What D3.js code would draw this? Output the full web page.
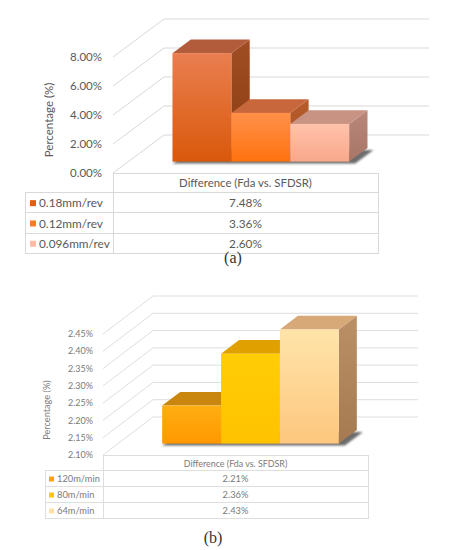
<!DOCTYPE html>
<html>
<head>
<meta charset="utf-8">
<script src="https://cdn.jsdelivr.net/npm/d3@7"></script>
<style>
  body { margin: 0; background: #fff; }
  svg { display: block; }
</style>
</head>
<body>
<svg id="chart" width="457" height="550"></svg>
<script>
const categoryName = "Difference (Fda vs. SFDSR)";
const axisTitle = "Percentage (%)";

// (a) feed rate
const feedRates = ["0.18mm/rev", "0.12mm/rev", "0.096mm/rev"];
const feedDiff = [7.48, 3.36, 2.60];
const feedTicks = [0, 2, 4, 6, 8];

// (b) cutting speed
const cutSpeeds = ["120m/min", "80m/min", "64m/min"];
const speedDiff = [2.21, 2.36, 2.43];
const speedTicks = [2.10, 2.15, 2.20, 2.25, 2.30, 2.35, 2.40, 2.45];

const pct = (v) => `${d3.format(".2f")(v)}%`;

const svg = d3.select("#chart");
const defs = svg.append("defs");
defs.append("filter").attr("id", "shadowBlur")
  .attr("x", "-20%").attr("y", "-50%").attr("width", "140%").attr("height", "200%")
  .append("feGaussianBlur").attr("stdDeviation", 1.3);

const addGradient = (id, stops) => {
  const g = defs.append("linearGradient").attr("id", id)
    .attr("x1", 0).attr("y1", 0).attr("x2", 0).attr("y2", 1);
  g.append("stop").attr("offset", "0%").attr("stop-color", stops[0]);
  g.append("stop").attr("offset", "100%").attr("stop-color", stops[1]);
  return `url(#${id})`;
};

const drawPanel = (opt) => {
  const { id, series, values, ticks, x0, yFront, yTop, W, DX, DY, z0, z1 } = opt;
  const layer = svg.append("g").attr("class", id);

  const y = d3.scaleLinear().domain([ticks[0], ticks[ticks.length - 1]]).range([yFront, yTop]);
  const xOuter = d3.scaleBand().domain([categoryName]).range([x0, x0 + W]).paddingOuter(0.25).paddingInner(0);
  const xInner = d3.scaleBand().domain(series).range([0, xOuter.bandwidth()]);
  const bx = (s) => xOuter(categoryName) + xInner(s);
  const pt = (x, v, z) => [x + z * DX, y(v) - z * DY];
  const base = ticks[0];

  // side wall + back wall gridlines
  const grid = layer.append("g").attr("stroke", opt.gridColor).attr("stroke-width", 1).attr("fill", "none");
  grid.selectAll("path").data(ticks).enter().append("path")
    .attr("d", (t) => {
      const a = pt(x0, t, 0), b = pt(x0, t, 1), c = pt(x0 + W, t, 1);
      return `M${a}L${b}L${c}`;
    });

  // floor shadow
  const first = bx(series[0]), last = bx(series[series.length - 1]) + xInner.bandwidth();
  const foot = [pt(first - 2, base, z0), pt(last + 4, base, z0), pt(last + 4, base, z1), pt(first - 2, base, z1)];
  layer.append("polygon")
    .attr("points", foot.map((p) => [p[0] + 2, p[1] + 2]).join(" "))
    .attr("fill", "#3a3a3a").attr("opacity", 0.75)
    .attr("filter", "url(#shadowBlur)");

  // bars
  const bw = xInner.bandwidth();
  const bars = layer.selectAll("g.bar").data(series).enter().append("g").attr("class", "bar");
  bars.each(function (s, i) {
    const g = d3.select(this);
    const v = values[i];
    const pal = opt.palette[i];
    const x = bx(s);
    g.append("polygon")
      .attr("points", [pt(x + bw, v, z0), pt(x + bw, v, z1), pt(x + bw, base, z1), pt(x + bw, base, z0)].join(" "))
      .attr("fill", addGradient(`${id}-side-${i}`, pal.side));
    g.append("polygon")
      .attr("points", [pt(x, v, z0), pt(x, v, z1), pt(x + bw, v, z1), pt(x + bw, v, z0)].join(" "))
      .attr("fill", pal.top);
    g.append("rect")
      .attr("x", x + z0 * DX)
      .attr("y", y(v) - z0 * DY)
      .attr("width", bw)
      .attr("height", y(base) - y(v))
      .attr("fill", addGradient(`${id}-front-${i}`, pal.front));
  });

  // tick labels
  layer.append("g").selectAll("text").data(ticks).enter().append("text")
    .attr("x", opt.labelX)
    .attr("y", (t) => y(t))
    .attr("dy", "0.35em")
    .attr("text-anchor", "end")
    .style("font", `${opt.font}px Lato`)
    .style("fill", opt.textColor)
    .text(pct);

  layer.append("text")
    .attr("transform", `translate(${opt.titleX},${opt.titleY}) rotate(-90)`)
    .attr("text-anchor", "middle")
    .attr("dy", "0.35em")
    .style("font", `${opt.titleFont}px Lato`)
    .style("fill", opt.textColor)
    .text(axisTitle);

  // data table
  const table = layer.append("g").attr("fill", "none").attr("stroke", opt.gridColor)
    .attr("stroke-width", 1).attr("shape-rendering", "crispEdges");
  table.append("rect").attr("x", x0 + 0.5).attr("y", yFront + 0.5).attr("width", W).attr("height", opt.headerH);
  const rowY = (i) => yFront + opt.headerH + i * opt.rowH;
  table.selectAll("rect.lab").data(series).enter().append("rect").attr("class", "lab")
    .attr("x", opt.tableLeft + 0.5).attr("y", (s, i) => rowY(i) + 0.5)
    .attr("width", x0 - opt.tableLeft).attr("height", opt.rowH);
  table.selectAll("rect.val").data(series).enter().append("rect").attr("class", "val")
    .attr("x", x0 + 0.5).attr("y", (s, i) => rowY(i) + 0.5)
    .attr("width", W).attr("height", opt.rowH);

  layer.append("text")
    .attr("x", x0 + W / 2).attr("y", yFront + opt.headerH / 2 + 1)
    .attr("dy", "0.35em").attr("text-anchor", "middle")
    .style("font", `${opt.headFont}px Lato`).style("fill", opt.textColor)
    .text(categoryName);

  const rows = layer.selectAll("g.row").data(series).enter().append("g").attr("class", "row")
    .attr("transform", (s, i) => `translate(0,${rowY(i) + opt.rowH / 2 + 1})`);
  rows.append("rect")
    .attr("x", opt.swatchX).attr("y", -opt.swatch / 2)
    .attr("width", opt.swatch).attr("height", opt.swatch)
    .attr("fill", (s, i) => opt.palette[i].swatch);
  rows.append("text")
    .attr("x", opt.rowTextX).attr("dy", "0.35em")
    .style("font", `${opt.rowFont}px Lato`).style("fill", opt.textColor)
    .text((s) => s);
  rows.append("text")
    .attr("x", x0 + W / 2).attr("dy", "0.35em").attr("text-anchor", "middle")
    .style("font", `${opt.rowFont}px Lato`).style("fill", opt.textColor)
    .text((s, i) => pct(values[i]));

  svg.append("text")
    .attr("x", opt.captionX).attr("y", opt.captionY)
    .attr("dy", "0.35em").attr("text-anchor", "middle")
    .style("font", "16px 'Liberation Serif'").style("fill", "#333")
    .text(opt.caption);
};

drawPanel({
  id: "feed",
  series: feedRates,
  values: feedDiff,
  ticks: feedTicks,
  x0: 113, yFront: 173, yTop: 57, W: 265, DX: 51, DY: 38, z0: 0.3, z1: 0.66,
  gridColor: "#d9d9d9", textColor: "#595959",
  font: 11.5, headFont: 11.4, rowFont: 11.8, titleFont: 11.5, labelX: 102, titleX: 49, titleY: 120,
  tableLeft: 25, headerH: 19, rowH: 20.3, swatchX: 30, swatch: 6, rowTextX: 39,
  caption: "(a)", captionX: 233, captionY: 257,
  palette: [
    { front: ["#ea7e50", "#d9590b"], top: "#b25c3b", side: ["#a04d24", "#8a3c10"], swatch: "#e0600f" },
    { front: ["#ff9049", "#ff7210"], top: "#c9673c", side: ["#b85c2c", "#a64f1f"], swatch: "#ff7a20" },
    { front: ["#ffc2ab", "#f8a88b"], top: "#c99383", side: ["#b9887b", "#a87566"], swatch: "#ffbca4" },
  ],
});

drawPanel({
  id: "speed",
  series: cutSpeeds,
  values: speedDiff,
  ticks: speedTicks,
  x0: 103, yFront: 455, yTop: 334, W: 265, DX: 50, DY: 38, z0: 0.3, z1: 0.66,
  gridColor: "#dedede", textColor: "#7a7a7a",
  font: 9, headFont: 8.9, rowFont: 9.3, titleFont: 9.2, labelX: 93, titleX: 47, titleY: 410,
  tableLeft: 45, headerH: 15, rowH: 16, swatchX: 49, swatch: 5, rowTextX: 57,
  caption: "(b)", captionX: 213, captionY: 537,
  palette: [
    { front: ["#ffae12", "#ff9800"], top: "#c9870f", side: ["#b87400", "#a66800"], swatch: "#ffa500" },
    { front: ["#ffcd05", "#ffc200"], top: "#e0a100", side: ["#c08a00", "#ae7a00"], swatch: "#ffc800" },
    { front: ["#ffe4aa", "#fdc77e"], top: "#d7a878", side: ["#bc9067", "#a67a50"], swatch: "#ffe0a8" },
  ],
});
</script>
</body>
</html>
